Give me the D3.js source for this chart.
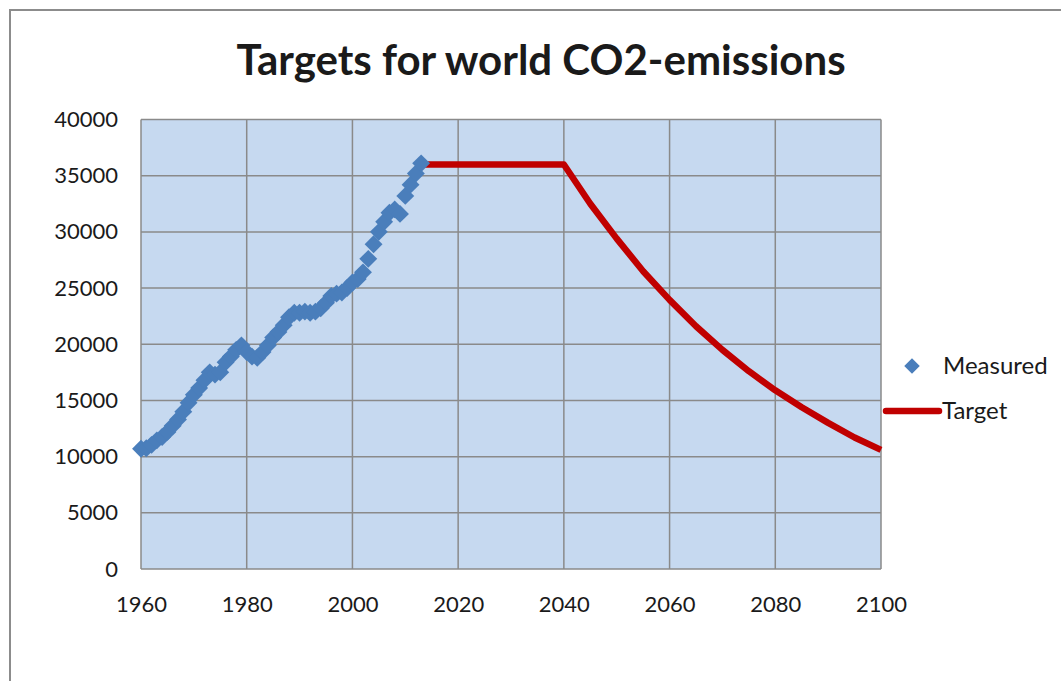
<!DOCTYPE html>
<html>
<head>
<meta charset="utf-8">
<script src="https://cdn.jsdelivr.net/npm/d3@7"></script>
<style>
  body { margin: 0; background: #fff; }
  text { font-family: Lato, "Open Sans", sans-serif; fill: #1a1a1a; }
</style>
</head>
<body>
<script>
var width = 1061, height = 681;

// measured world CO2 emissions, one point per year
var measuredYears = d3.range(1960, 2014);
var measuredValues = [10700, 10750, 11050, 11450, 11750, 12200, 12750, 13300, 14000, 14800,
                      15500, 16100, 16800, 17500, 17300, 17500, 18400, 18900, 19500, 19900,
                      19300, 18900, 18800, 19300, 19900, 20600, 21100, 21700, 22400, 22800,
                      22800, 22900, 22800, 22900, 23200, 23700, 24300, 24500, 24600, 25000,
                      25500, 25800, 26400, 27600, 28900, 30000, 30900, 31700, 32000, 31600,
                      33200, 34200, 35200, 36100];

// target path
var targetYears = [2013, 2040, 2045, 2050, 2055, 2060, 2065, 2070, 2075, 2080, 2085, 2090, 2095, 2100];
var targetValues = [36000, 36000, 32500, 29400, 26500, 23950, 21600, 19500, 17600, 15900, 14400, 13000, 11700, 10600];

var xTicks = [1960, 1980, 2000, 2020, 2040, 2060, 2080, 2100];
var yTicks = [0, 5000, 10000, 15000, 20000, 25000, 30000, 35000, 40000];

var legendNames = ["Measured", "Target"];

var svg = d3.select("body")
            .append("svg")
            .attr("width", width)
            .attr("height", height);

// outer chart border
svg.append("rect")
   .attr("x", 10).attr("y", 10)
   .attr("width", width + 20).attr("height", height + 20)
   .attr("fill", "#fff")
   .attr("stroke", "#8c8c8c")
   .attr("stroke-width", 2);

var plot = {left: 141, right: 881, top: 119.5, bottom: 569};

var x = d3.scaleLinear().domain([1960, 2100]).range([plot.left, plot.right]);
var y = d3.scaleLinear().domain([0, 40000]).range([plot.bottom, plot.top]);

// plot background
svg.append("rect")
   .attr("x", plot.left).attr("y", plot.top)
   .attr("width", plot.right - plot.left)
   .attr("height", plot.bottom - plot.top)
   .attr("fill", "#c6d9f0");

// grid
svg.selectAll("line.vgrid")
   .data(xTicks)
   .enter()
   .append("line")
   .attr("x1", function(d) { return x(d); })
   .attr("x2", function(d) { return x(d); })
   .attr("y1", plot.top).attr("y2", plot.bottom)
   .attr("stroke", "#8a8a8a")
   .attr("stroke-width", 1.5);

svg.selectAll("line.hgrid")
   .data(yTicks)
   .enter()
   .append("line")
   .attr("x1", plot.left).attr("x2", plot.right)
   .attr("y1", function(d) { return y(d); })
   .attr("y2", function(d) { return y(d); })
   .attr("stroke", "#8a8a8a")
   .attr("stroke-width", 1.5);

// axes labels (no tick marks, like the excel chart)
var xAxis = svg.append("g")
   .attr("transform", "translate(0," + (plot.bottom + 24) + ")")
   .call(d3.axisBottom(x).tickValues(xTicks).tickSize(0).tickFormat(d3.format("d")));
xAxis.select(".domain").remove();
xAxis.selectAll("text")
     .attr("dy", "0.71em")
     .style("font-size", "22px")
     .style("font-family", "Lato, sans-serif")
     .attr("fill", "#1a1a1a");

var yAxis = svg.append("g")
   .attr("transform", "translate(" + (plot.left - 23) + ",0)")
   .call(d3.axisLeft(y).tickValues(yTicks).tickSize(0).tickFormat(d3.format("d")));
yAxis.select(".domain").remove();
yAxis.selectAll("text")
     .attr("x", 0)
     .style("font-size", "22px")
     .style("font-family", "Lato, sans-serif")
     .attr("fill", "#1a1a1a");

// target line
var line = d3.line()
   .x(function(d) { return x(d.year); })
   .y(function(d) { return y(d.value); });

var targetData = targetYears.map(function(yr, i) { return {year: yr, value: targetValues[i]}; });

svg.append("path")
   .datum(targetData)
   .attr("d", line)
   .attr("fill", "none")
   .attr("stroke", "#c00000")
   .attr("stroke-width", 6.5)
   .attr("stroke-linejoin", "round");

// measured diamonds
var diamond = d3.symbol().type(d3.symbolSquare).size(160);
var measuredData = measuredYears.map(function(yr, i) { return {year: yr, value: measuredValues[i]}; });

svg.selectAll("path.measured")
   .data(measuredData)
   .enter()
   .append("path")
   .attr("class", "measured")
   .attr("d", diamond)
   .attr("transform", function(d) { return "translate(" + x(d.year) + "," + y(d.value) + ") rotate(45)"; })
   .attr("fill", "#4a7ebb");

// title
svg.append("text")
   .attr("x", 541).attr("y", 75)
   .attr("text-anchor", "middle")
   .style("font-size", "42px")
   .style("font-weight", "bold")
   .attr("fill", "#000")
   .text("Targets for world CO2-emissions");

// legend
var legend = svg.append("g");
legend.append("path")
   .attr("d", d3.symbol().type(d3.symbolSquare).size(120))
   .attr("transform", "translate(912,366) rotate(45)")
   .attr("fill", "#4a7ebb");
legend.append("line")
   .attr("x1", 886).attr("x2", 939)
   .attr("y1", 411).attr("y2", 411)
   .attr("stroke", "#c00000")
   .attr("stroke-width", 6.5)
   .attr("stroke-linecap", "round");
legend.selectAll("text")
   .data(legendNames)
   .enter()
   .append("text")
   .attr("x", function(d, i) { return i == 0 ? 943 : 942; })
   .attr("y", function(d, i) { return i == 0 ? 366 : 411; })
   .attr("dy", "0.35em")
   .style("font-size", "24px")
   .text(function(d) { return d; });
</script>
</body>
</html>
